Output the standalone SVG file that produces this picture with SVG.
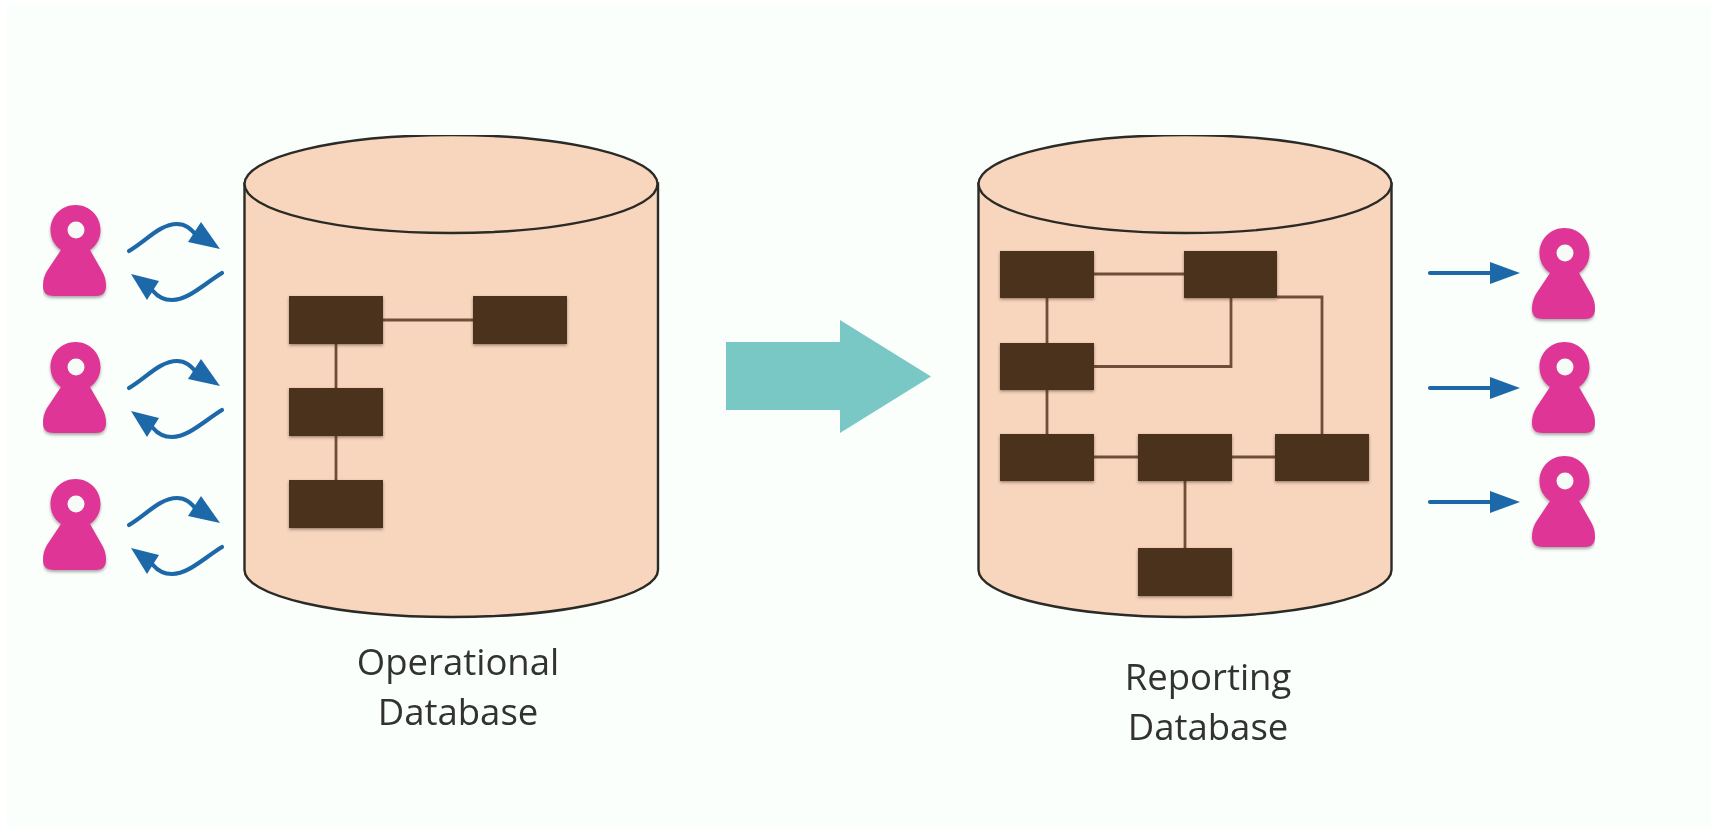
<svg xmlns="http://www.w3.org/2000/svg" width="1711" height="832" viewBox="0 0 1711 832">
<style>
.cyl{fill:#f8d6bd;stroke:#2b2a25;stroke-width:2.4}
.box{fill:#4c301d;filter:url(#s)}
.wire{fill:none;stroke:#6f4e38;stroke-width:2.8}
.flow{fill:none;stroke:#1c68a8;stroke-width:4.2;stroke-linecap:round}
.tip{fill:#1c68a8}
.body{fill:#de3496;filter:url(#s2)}
.hole{fill:#f6fbf8}
text{font-family:"Open Sans","Noto Sans",sans-serif;font-size:36.500px;fill:#333;text-anchor:middle}
</style>
<defs>
<filter id="s" x="-10%" y="-10%" width="120%" height="125%"><feDropShadow dx="0" dy="1.5" stdDeviation="1.5" flood-color="#3a2a1c" flood-opacity=".5"/></filter>
<filter id="s2" x="-10%" y="-10%" width="120%" height="120%"><feDropShadow dx="0" dy="2" stdDeviation="1.5" flood-color="#555" flood-opacity=".5"/></filter>
<filter id="soft" x="0" y="0" width="100%" height="100%"><feGaussianBlur stdDeviation="0.6"/></filter>
<g id="p"><path class="body" d="M75.500 205C61.500 205 50.500 216 50.500 230C50.500 238 54 245 61 250L47 271C44 276 43 281 43 286C43 293 47 296 54 296H96C102 296 106 293 106 286C106 281 105 276 102 271L90 250C97 245 100.500 238 100.500 230C100.500 216 89.500 205 75.500 205Z"/><circle class="hole" cx="76" cy="230" r="8.500"/></g>
<g id="sw"><path class="flow" d="M129 251C146 241 160 224 177 224C186 224 192 229 197 237"/><path class="tip" d="M220 249L201 222L188 242Z"/><path class="flow" d="M222 273C204 284 188 300 172 300C164 300 158 297 153 291"/><path class="tip" d="M131 274L159 281L147 300Z"/></g>
<g id="oneway"><path class="flow" d="M1430 273H1495"/><path class="tip" d="M1520 273L1490 262V284Z"/></g>
</defs>
<rect width="1711" height="832" fill="#fff"/>
<rect x="7" y="4" width="1704" height="824" fill="#fafffb"/>
<g filter="url(#soft)">
<g id="db-operational"><path class="cyl" d="M244.500 183.500V570A206.750 47 0 0 0 658 570V183.500Z"/><ellipse class="cyl" cx="451" cy="184" rx="206.500" ry="49"/></g>
<g id="db-reporting"><path class="cyl" d="M978.500 183.500V570A206.500 47 0 0 0 1391.500 570V183.500Z"/><ellipse class="cyl" cx="1185" cy="184" rx="206.500" ry="49"/></g>
<g id="connectors">
<path class="wire" d="M383 320H473M336 344V388M336 436V480"/>
<path class="wire" d="M1094 274H1184M1047 298V343M1047 390V434M1094 366.500H1231V298M1277 297H1322V434M1094 457H1138M1232 457H1275M1185 481V548"/>
<path d="M726 342H840V320L931 376.500L840 433V410H726Z" fill="#79c8c5"/>
</g>
<g id="op-tables">
<rect class="box" x="289" y="296" width="94" height="48"/><rect class="box" x="473" y="296" width="94" height="48"/><rect class="box" x="289" y="388" width="94" height="48"/><rect class="box" x="289" y="480" width="94" height="48"/>
</g>
<g id="rep-tables">
<rect class="box" x="1000" y="251" width="94" height="47"/><rect class="box" x="1184" y="251" width="93" height="47"/><rect class="box" x="1000" y="343" width="94" height="47"/><rect class="box" x="1000" y="434" width="94" height="47"/><rect class="box" x="1138" y="434" width="94" height="47"/><rect class="box" x="1275" y="434" width="94" height="47"/><rect class="box" x="1138" y="548" width="94" height="48"/>
</g>
<g id="users-left"><use href="#p"/><use href="#p" y="137"/><use href="#p" y="274"/></g>
<g id="sync"><use href="#sw"/><use href="#sw" y="137"/><use href="#sw" y="274"/></g>
<g id="users-right"><use href="#p" x="1489" y="23"/><use href="#p" x="1489" y="137"/><use href="#p" x="1489" y="251"/></g>
<g id="reads"><use href="#oneway"/><use href="#oneway" y="115"/><use href="#oneway" y="229"/></g>
<g id="labels"><text x="458" y="675">Operational</text><text x="458" y="725">Database</text><text x="1208" y="690">Reporting</text><text x="1208" y="740">Database</text></g>
</g>
</svg>
